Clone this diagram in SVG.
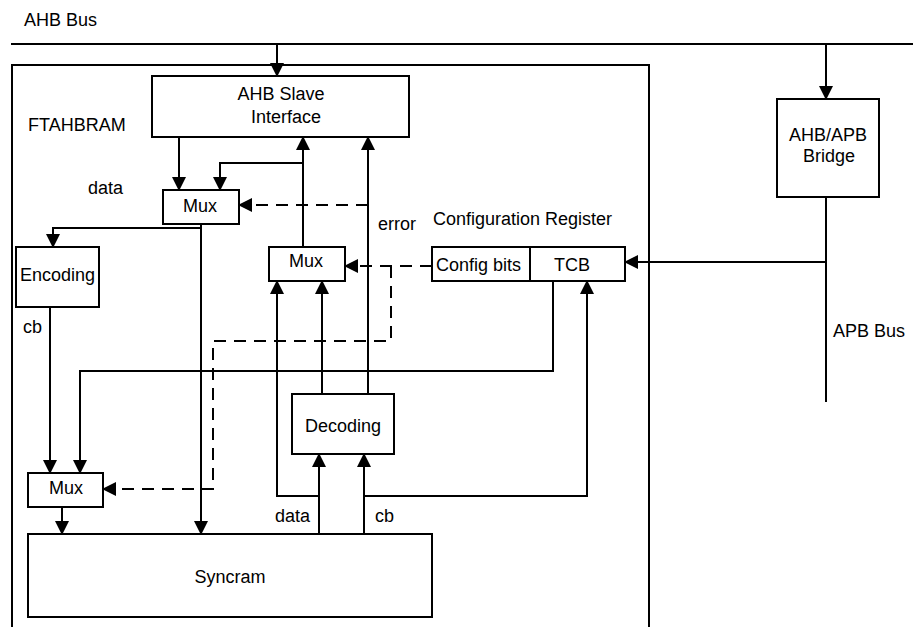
<svg xmlns="http://www.w3.org/2000/svg" width="917" height="627" viewBox="0 0 917 627">
<defs>
<marker id="arr" markerUnits="userSpaceOnUse" markerWidth="14" markerHeight="14" viewBox="0 0 14 14" refX="13" refY="7" orient="auto">
<path d="M0,0 L14,7 L0,14 Z" fill="#000"/>
</marker>
<style>
.box{fill:#fff;stroke:#000;stroke-width:2}
.ln{fill:none;stroke:#000;stroke-width:2}
.dash{fill:none;stroke:#000;stroke-width:2;stroke-dasharray:12 8}
.arr{marker-end:url(#arr)}
text{font-family:"Liberation Sans",Arial,sans-serif;font-size:18px;fill:#000}
.m{text-anchor:middle}
</style>
</defs>
<rect width="917" height="627" fill="#fff"/>

<g id="outer">
<path class="ln" d="M12,627 V65 H649 V627"/>
<text x="28" y="131">FTAHBRAM</text>
</g>

<g id="labels">
<text x="24" y="26">AHB Bus</text>
<text x="833" y="337">APB Bus</text>
<text x="88" y="194">data</text>
<text x="378" y="230">error</text>
<text x="433" y="225">Configuration Register</text>
<text x="23" y="333">cb</text>
<text x="275" y="522">data</text>
<text x="375" y="522">cb</text>
</g>

<g id="connectors">
<path class="ln" d="M11,44 H913"/>
<path class="ln arr" d="M277,44 V76"/>
<path class="ln arr" d="M826,44 V99"/>
<path class="ln" d="M826,197 V402"/>
<path class="ln arr" d="M826,262 H625"/>
<path class="ln arr" d="M179,137 V190"/>
<path class="ln arr" d="M303,247 V137"/>
<path class="ln arr" d="M303,163 H220 V190"/>
<path class="ln arr" d="M368,394 V137"/>
<path class="dash arr" d="M368,205 H239"/>
<path class="ln arr" d="M201,224 V534"/>
<path class="ln arr" d="M201,228 H53 V247"/>
<path class="ln arr" d="M50,307 V473"/>
<path class="ln arr" d="M553,281 V371 H80 V473"/>
<path class="dash arr" d="M432,266 H345"/>
<path class="dash arr" d="M391,266 V341 H213 V489 H103"/>
<path class="ln arr" d="M62,507 V534"/>
<path class="ln arr" d="M319,534 V454"/>
<path class="ln arr" d="M319,496 H277 V281"/>
<path class="ln arr" d="M364,534 V454"/>
<path class="ln arr" d="M364,496 H587 V281"/>
<path class="ln arr" d="M322,394 V281"/>
</g>

<g id="ahb-slave">
<rect class="box" x="152" y="76" width="257" height="61"/>
<text class="m" x="281" y="100">AHB Slave</text>
<text class="m" x="286" y="123">Interface</text>
</g>

<g id="mux1">
<rect class="box" x="163" y="190" width="76" height="34"/>
<text class="m" x="200" y="212">Mux</text>
</g>

<g id="mux2">
<rect class="box" x="269" y="247" width="76" height="34"/>
<text class="m" x="306" y="267">Mux</text>
</g>

<g id="encoding">
<rect class="box" x="16" y="247" width="83" height="60"/>
<text x="20" y="281">Encoding</text>
</g>

<g id="config-register">
<rect class="box" x="432" y="247" width="193" height="34"/>
<path class="ln" d="M530,247 V281"/>
<text x="436" y="271">Config bits</text>
<text class="m" x="572" y="271">TCB</text>
</g>

<g id="bridge">
<rect class="box" x="777" y="99" width="102" height="98"/>
<text class="m" x="828" y="141">AHB/APB</text>
<text class="m" x="829" y="162">Bridge</text>
</g>

<g id="decoding">
<rect class="box" x="292" y="394" width="102" height="60"/>
<text class="m" x="343" y="432">Decoding</text>
</g>

<g id="mux3">
<rect class="box" x="28" y="473" width="75" height="34"/>
<text class="m" x="66" y="494">Mux</text>
</g>

<g id="syncram">
<rect class="box" x="28" y="534" width="404" height="83"/>
<text class="m" x="230" y="583">Syncram</text>
</g>
</svg>
